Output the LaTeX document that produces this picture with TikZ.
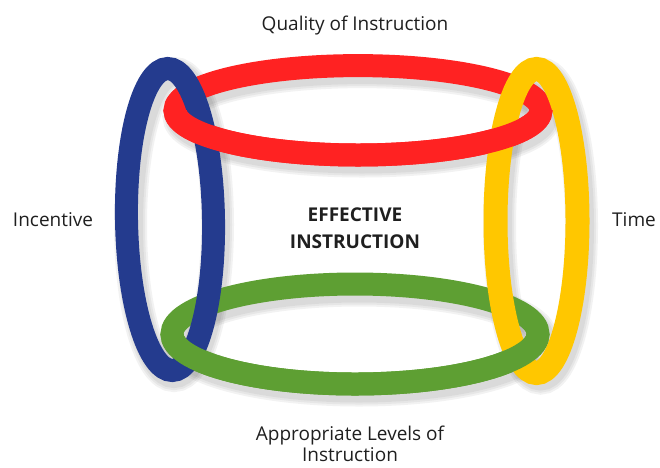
\documentclass[tikz,border=0pt]{standalone}
\usepackage{fontspec}
\setmainfont{Open Sans}
\begin{document}
\begin{tikzpicture}[x=1pt,y=-1pt,
  ring/.style={line width=23pt},
  shade/.style={line width=#1, draw=black, draw opacity=0.05},
  label/.style={font=\fontsize{19}{21}\selectfont, text=black!88, align=center, inner sep=0pt},
  title/.style={font=\bfseries\fontsize{19}{27}\selectfont, text=black!88, align=center, inner sep=0pt}]
\definecolor{ringblue}{HTML}{243B8E}
\definecolor{ringred}{HTML}{FF2222}
\definecolor{ringyellow}{HTML}{FFC700}
\definecolor{ringgreen}{HTML}{5E9F33}
\useasboundingbox (0,0) rectangle (660,467);
% centres of the four rings
\coordinate (cb) at (170,219.5);
\coordinate (cr) at (358,110.3);
\coordinate (cy) at (536.5,221);
\coordinate (cg) at (355,334);
% soft shadows
\foreach \w in {33pt,29pt,25pt}{
  \draw[shade=\w] ([shift={(4,5)}]cb) ellipse [x radius=43.5pt, y radius=151pt];
  \draw[shade=\w] ([shift={(4,5)}]cy) ellipse [x radius=41pt, y radius=152pt];
  \draw[shade=\w] ([shift={(4,6)}]cr) ellipse [x radius=183pt, y radius=44.7pt];
  \draw[shade=\w] ([shift={(4,6)}]cg) ellipse [x radius=183pt, y radius=50pt];
}
% horizontal rings (back halves end up under the vertical rings)
\draw[ring, ringred] (cr) ellipse [x radius=183pt, y radius=44.7pt];
\draw[ring, ringgreen] (cg) ellipse [x radius=183pt, y radius=50pt];
% vertical rings
\draw[ring, ringblue, rotate around={0.9:(cb)}] (cb) ellipse [x radius=43.5pt, y radius=151pt];
\draw[ring, line width=24pt, ringyellow] (cy) ellipse [x radius=41pt, y radius=152pt];
% front halves of the horizontal rings pass over the vertical rings
\begin{scope}
  \clip (0,110.3) rectangle (660,200);
  \draw[ring, ringred] (cr) ellipse [x radius=183pt, y radius=44.7pt];
\end{scope}
\begin{scope}
  \clip (0,334) rectangle (660,420);
  \draw[ring, ringgreen] (cg) ellipse [x radius=183pt, y radius=50pt];
\end{scope}
% labels
\node[label] (q) at (355,26) {Quality of Instruction};
\node[label] (inc) at (53,220) {Incentive};
\node[label] (t) at (634,220) {Time};
\node[label] (a) at (350,444) {Appropriate Levels of\\Instruction};
\node[title] (e) at (355,228) {EFFECTIVE\\INSTRUCTION};
\end{tikzpicture}
\end{document}
